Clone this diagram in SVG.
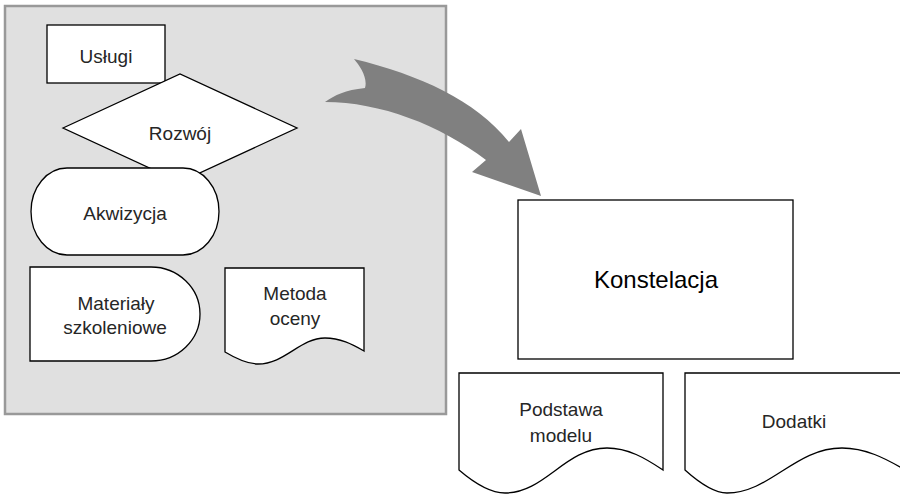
<svg xmlns="http://www.w3.org/2000/svg" width="900" height="494" viewBox="0 0 900 494">
  <style>
    .shape { fill: #ffffff; stroke: #000000; stroke-width: 1.3; }
    .lbl { font-family: "Liberation Sans", Arial, sans-serif; font-size: 19px; fill: #262626; text-anchor: middle; }
    .big { font-family: "Liberation Sans", Arial, sans-serif; font-size: 24px; fill: #000000; text-anchor: middle; }
  </style>
  <rect width="900" height="494" fill="#ffffff"/>

  <!-- grey panel holding the source elements -->
  <rect id="panel" x="5" y="6" width="441" height="408" fill="#e0e0e0" stroke="#999999" stroke-width="2.5"/>

  <g id="uslugi">
    <rect class="shape" x="47" y="25" width="118" height="58"/>
    <text class="lbl" x="106" y="63">Usługi</text>
  </g>

  <g id="rozwoj">
    <polygon class="shape" points="63,128 180,74 297,128 180,182"/>
    <text class="lbl" x="180" y="140">Rozwój</text>
  </g>

  <g id="akwizycja">
    <rect class="shape" x="31" y="168" width="188" height="87" rx="36" ry="43.5"/>
    <text class="lbl" x="125" y="220">Akwizycja</text>
  </g>

  <g id="materialy">
    <path class="shape" d="M30,267 H151 A49,47 0 0 1 151,361 H30 Z"/>
    <text class="lbl" x="116" y="310">Materiały</text>
    <text class="lbl" x="115" y="334">szkoleniowe</text>
  </g>

  <g id="metoda">
    <path class="shape" d="M225,268 H364 V351 C352,344 340,338 325,338 C300,338 285,364 258,364 C250,364 240,361 225,352 Z"/>
    <text class="lbl" x="295" y="300">Metoda</text>
    <text class="lbl" x="295" y="325">oceny</text>
  </g>

  <g id="konstelacja">
    <rect class="shape" x="518" y="200" width="275" height="159"/>
    <text class="big" x="656" y="288">Konstelacja</text>
  </g>

  <g id="podstawa">
    <path class="shape" d="M459,373 H663 V470 C645,458 628,448 607,448 C565,448 545,493 505,493 C495,493 480,488 459,470 Z"/>
    <text class="lbl" x="561" y="416">Podstawa</text>
    <text class="lbl" x="561" y="442">modelu</text>
  </g>

  <g id="dodatki">
    <path class="shape" d="M685,373 H905 V470 C885,458 865,448 842,448 C795,448 770,493 727,493 C717,493 705,488 685,470 Z"/>
    <text class="lbl" x="794" y="428">Dodatki</text>
  </g>

  <!-- curved block arrow -->
  <g id="connectors">
    <path d="M354,59 C360,66 368,78 365,88 C345,90 335,95 325,102 C380,102 440,125 486,160 L472,172 L541,196 L521,129 L509,142 C475,100 420,75 354,59 Z" fill="#808080"/>
  </g>
</svg>
